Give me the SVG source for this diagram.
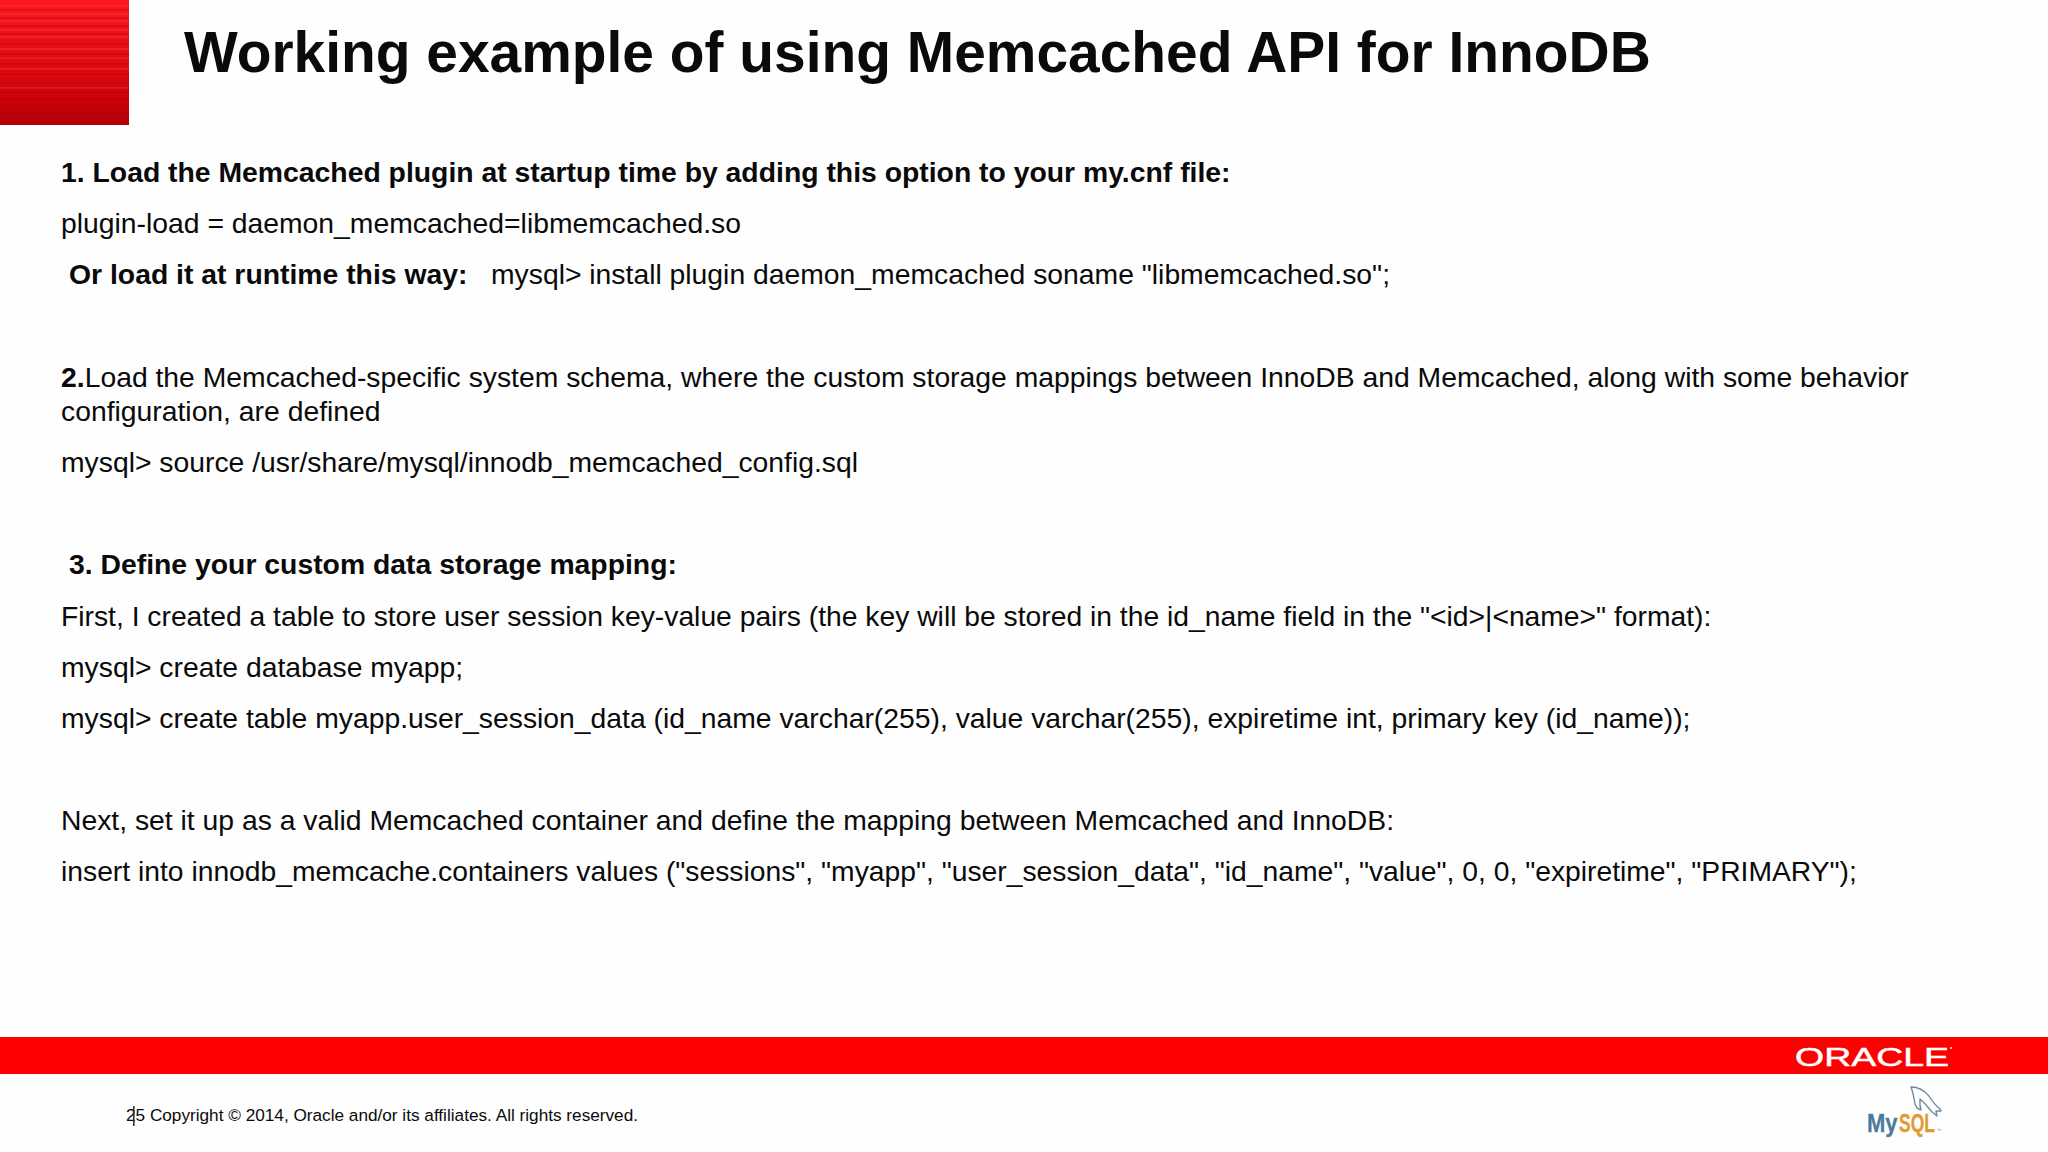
<svg xmlns="http://www.w3.org/2000/svg" width="2048" height="1152" viewBox="0 0 2048 1152">
<style>
text{font-family:"Liberation Sans",Arial,sans-serif;fill:#0a0a0a}
.b{font-size:28.32px;white-space:pre}
.h{font-weight:700;font-size:28.35px}
.i{font-size:28.27px}
.t{font-size:56.9px;font-weight:700}
.c{font-size:17.2px}
.st{stroke:#ff4444;stroke-width:1;opacity:.6}
.sd{stroke:#a80008;stroke-width:1;opacity:.5}
</style>
<defs>
<linearGradient id="g" x1="0" y1="0" x2="0" y2="1"><stop offset="0" stop-color="#fb1820"/><stop offset=".45" stop-color="#e40c14"/><stop offset=".85" stop-color="#c80008"/><stop offset="1" stop-color="#b00008"/></linearGradient>
</defs>
<rect width="2048" height="1152" fill="#fefefe"/>
<g id="corner">
<rect width="129" height="125" fill="url(#g)"/>
<path class="st" d="M0 6H129M0 14H129M0 21H129M0 30H129M0 37H129M0 49H129M0 58H129M0 69H129M0 88H129"/>
<path class="sd" d="M0 10H129M0 18H129M0 26H129M0 34H129M0 44H129M0 54H129M0 64H129M0 74H129M0 83H129M0 92H129M0 99H129M0 106H129M0 113H129M0 119H129"/>
</g>
<text class="t" x="184" y="72">Working example of using Memcached API for InnoDB</text>
<g id="body">
<text class="b h" x="61" y="182">1. Load the Memcached plugin at startup time by adding this option to your my.cnf file:</text>
<text class="b" x="61" y="233">plugin-load = daemon_memcached=libmemcached.so</text>
<text class="b h" x="69" y="284">Or load it at runtime this way:</text>
<text class="b" x="491" y="284">mysql&gt; install plugin daemon_memcached soname "libmemcached.so";</text>
<text class="b" x="61" y="387"><tspan class="h">2.</tspan>Load the Memcached-specific system schema, where the custom storage mappings between InnoDB and Memcached, along with some behavior</text>
<text class="b" x="61" y="421">configuration, are defined</text>
<text class="b" x="61" y="472">mysql&gt; source /usr/share/mysql/innodb_memcached_config.sql</text>
<text class="b h" x="69" y="574">3. Define your custom data storage mapping:</text>
<text class="b i" x="61" y="626">First, I created a table to store user session key-value pairs (the key will be stored in the id_name field in the "&lt;id&gt;|&lt;name&gt;" format):</text>
<text class="b" x="61" y="677">mysql&gt; create database myapp;</text>
<text class="b" x="61" y="728">mysql&gt; create table myapp.user_session_data (id_name varchar(255), value varchar(255), expiretime int, primary key (id_name));</text>
<text class="b" x="61" y="830">Next, set it up as a valid Memcached container and define the mapping between Memcached and InnoDB:</text>
<text class="b i" x="61" y="881.4">insert into innodb_memcache.containers values ("sessions", "myapp", "user_session_data", "id_name", "value", 0, 0, "expiretime", "PRIMARY");</text>
</g>
<g id="footer">
<rect y="1037" width="2048" height="37" fill="#fe0000"/>
<text x="1795" y="1066" font-size="26.5" textLength="154" lengthAdjust="spacingAndGlyphs" style="fill:#fff;stroke:#fff;stroke-width:.5">ORACLE</text>
<circle cx="1951" cy="1048" r="1.1" fill="#ffd0d0"/>
<text class="c" x="126" y="1121">25 Copyright © 2014, Oracle and/or its affiliates. All rights reserved.</text>
<rect x="133" y="1106" width="1.6" height="20" fill="#333"/>
<text transform="translate(1867 1132) scale(.88 1)" font-size="25" font-weight="700" style="fill:#4d7a9c;stroke:#4d7a9c;stroke-width:.3">My</text>
<text transform="translate(1899 1132) scale(.7 1)" font-size="25" font-weight="700" style="fill:#e29a34;stroke:#e29a34;stroke-width:.3">SQL</text>
<text x="1936.5" y="1132" font-size="5" style="fill:#9a9a9a">™</text>
<path d="M1911 1087c7 0 13 3 18 9 3 5 6 9 11 13l1 2-5 0 1 5-6-5c-4-5-7-9-11-12l0 6 1 5-4-2-2-4c-1-6-2-12-4-17z" fill="none" stroke="#6e8aa3" stroke-width="1.4" stroke-linejoin="round"/>
</g>
</svg>
